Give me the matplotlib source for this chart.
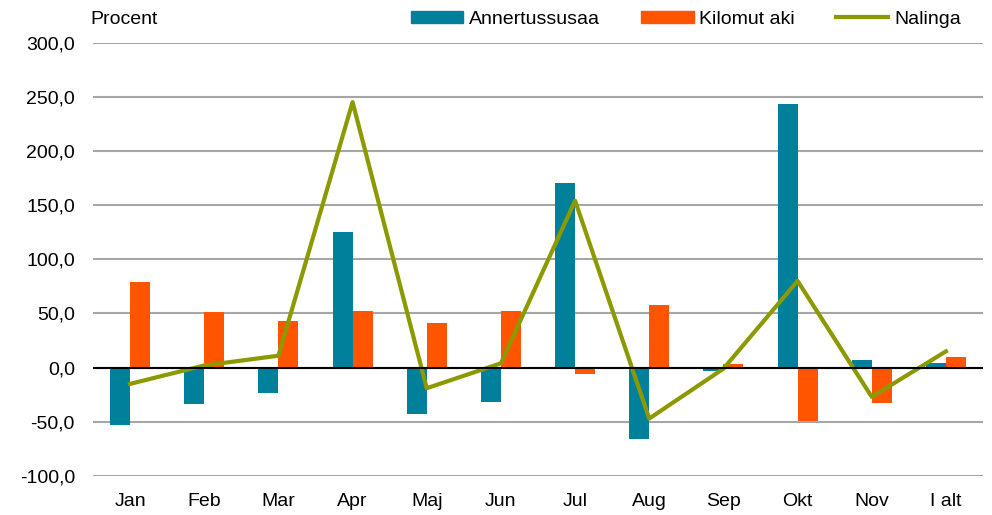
import numpy as np
import matplotlib
matplotlib.use("Agg")
import matplotlib.pyplot as plt
from matplotlib.patches import Patch
from matplotlib.lines import Line2D

# ==============================
# DATA
# ==============================

months = ["Jan", "Feb", "Mar", "Apr", "Maj", "Jun", "Jul", "Aug", "Sep", "Okt", "Nov", "I alt"]
annertussusaa = [-53, -34, -23, 125, -43, -32, 170, -66, -3, 243, 7, 4]
kilomut_aki = [79, 51, 43, 52, 41, 52, -6, 58, 3, -49, -33, 10]
nalinga = [-15, 2, 11, 245, -19, 4, 154, -47, -1, 80, -27, 15]

yticks = [-100, -50, 0, 50, 100, 150, 200, 250, 300]

# ==============================
# PLOT
# ==============================

plt.rcParams["font.family"] = ["Liberation Sans", "DejaVu Sans"]

blue = "#00809A"
orange = "#FF5500"
olive = "#8C9A00"
fs = 14

fig = plt.figure(figsize=(9.92, 5.15), dpi=100)
ax = fig.add_axes([93 / 992, 1 - 476 / 515, 890 / 992, (476 - 42.5) / 515])

x = np.arange(len(months))
w = 0.27
ax.bar(x - w / 2, annertussusaa, width=w, color=blue, zorder=3)
ax.bar(x + w / 2, kilomut_aki, width=w, color=orange, zorder=3)
ax.plot(x, nalinga, color=olive, linewidth=3, zorder=4)

ax.set_xlim(-0.5, len(months) - 0.5)
ax.set_ylim(-100, 300)
ax.set_yticks(yticks)
ax.set_yticklabels([f"{v:.1f}".replace(".", ",") for v in yticks], fontsize=fs)
ax.set_xticks(x)
ax.set_xticklabels(months, fontsize=fs)
ax.tick_params(axis="y", length=0, pad=13)
ax.tick_params(axis="x", length=0, pad=12)

ax.grid(axis="y", color="#A6A6A6", linewidth=1.5, zorder=0)
ax.axhline(0, color="black", linewidth=1.5, zorder=5)
for s in ax.spines.values():
    s.set_visible(False)

fig.text(90 / 992, 1 - 19 / 515, "Procent", fontsize=fs, va="center", ha="left")

handles = [
    Patch(color=blue),
    Patch(color=orange),
    Line2D([0], [0], color=olive, linewidth=3),
]
fig.legend(handles, ["Annertussusaa", "Kilomut aki", "Nalinga"],
           loc="center right", bbox_to_anchor=(961 / 992, 1 - 19 / 515),
           ncol=3, frameon=False, fontsize=fs, handlelength=2.7,
           handleheight=0.57, handletextpad=0.3, columnspacing=2.1,
           borderpad=0, borderaxespad=0)

fig.savefig("out.png", dpi=100)
